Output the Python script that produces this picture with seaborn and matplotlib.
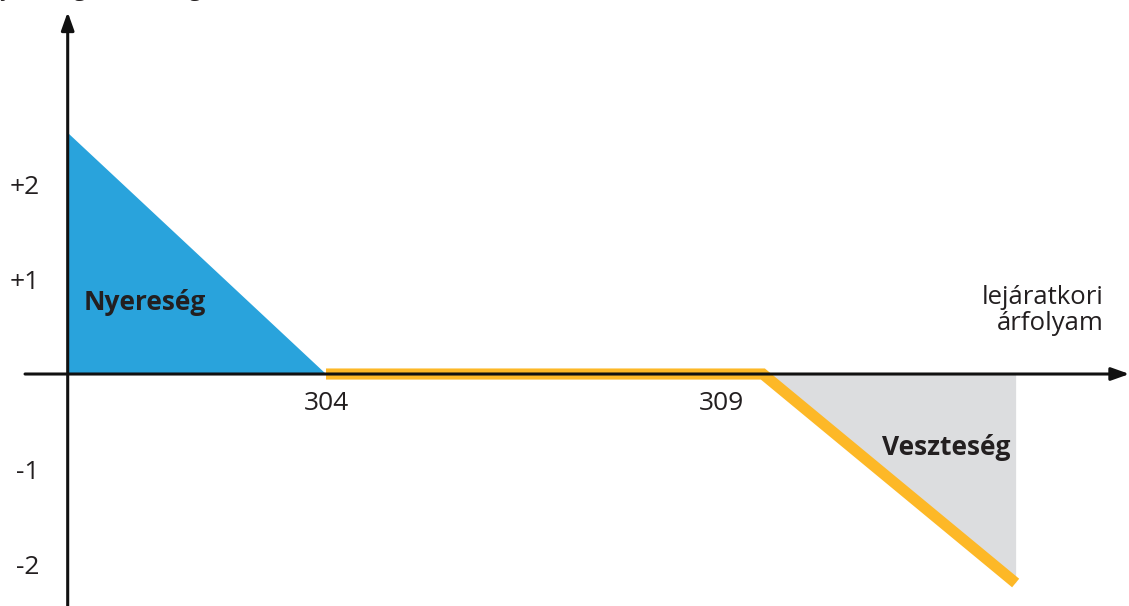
import matplotlib
matplotlib.use('Agg')
import matplotlib.pyplot as plt
import seaborn as sns
import pandas as pd

# payoff profile (price, result)
price = [300.73, 304.0, 309.53, 312.73]
payoff = [2.54, 0.0, 0.0, -2.2]
xtick_vals = [304, 309]
xtick_labels = ['304', '309']
ytick_vals = [2, 1, -1, -2]
ytick_labels = ['+2', '+1', '-1', '-2']

blue = '#29A3DC'
orange = '#FDB827'
grey = '#DCDDDF'
ink = '#231F20'

sns.set_theme(style='white')
plt.rcParams['font.family'] = ['Open Sans', 'DejaVu Sans']

fig = plt.figure(figsize=(11.29, 6.06), dpi=100)
ax = fig.add_axes([0, 0, 1, 1])
ax.set_xlim(299.873, 314.165)
ax.set_ylim(-2.442, 3.937)

df = pd.DataFrame({'price': price, 'payoff': payoff})

# profit area (blue) and loss area (grey)
ax.fill_between(price[:2], payoff[:2], 0, color=blue, lw=0, zorder=1)
ax.fill_between(price[2:], payoff[2:], 0, color=grey, lw=0, zorder=1)

# payoff line from the first breakeven on
sns.lineplot(data=df.iloc[1:], x='price', y='payoff', ax=ax, color=orange,
             lw=8, solid_capstyle='butt', solid_joinstyle='miter', zorder=2)

# axes with arrow heads
arrow = dict(arrowstyle='-|>,head_length=0.9,head_width=0.32', lw=2.2,
             color='#111111', shrinkA=0, shrinkB=0)
ax.annotate('', xy=(price[0], 3.81), xytext=(price[0], -2.45),
            arrowprops=arrow, zorder=3, annotation_clip=False)
ax.annotate('', xy=(314.17, 0), xytext=(300.19, 0),
            arrowprops=arrow, zorder=3, annotation_clip=False)

for s in ax.spines.values():
    s.set_color('none')
ax.spines['bottom'].set_position(('data', 0))
ax.spines['left'].set_position(('data', price[0]))

ax.set_xticks(xtick_vals)
ax.set_xticklabels(xtick_labels, fontsize=19, color=ink)
ax.set_yticks(ytick_vals)
ax.set_yticklabels(ytick_labels, fontsize=19, color=ink)
ax.tick_params(axis='x', length=0, pad=12)
ax.tick_params(axis='y', length=0, pad=20)
ax.set_xlabel('')
ax.set_ylabel('')
ax.grid(False)

ax.text(300.93, 0.75, 'Nyereség', fontsize=19, fontweight='bold',
        color=ink, ha='left', va='center')
ax.text(312.66, -0.77, 'Veszteség', fontsize=19, fontweight='bold',
        color=ink, ha='right', va='center')
ax.text(313.84, 0.46, 'lejáratkori\nárfolyam', fontsize=18.5, color=ink,
        ha='right', va='baseline', linespacing=1.05)

# axis title at the top, mostly cut off by the figure edge
fig.text(203 / 1129, 1 + 5 / 606, 'Nyereség/veszteség', fontsize=17,
         color=ink, ha='right', va='baseline')

fig.savefig('out.png', dpi=100)
